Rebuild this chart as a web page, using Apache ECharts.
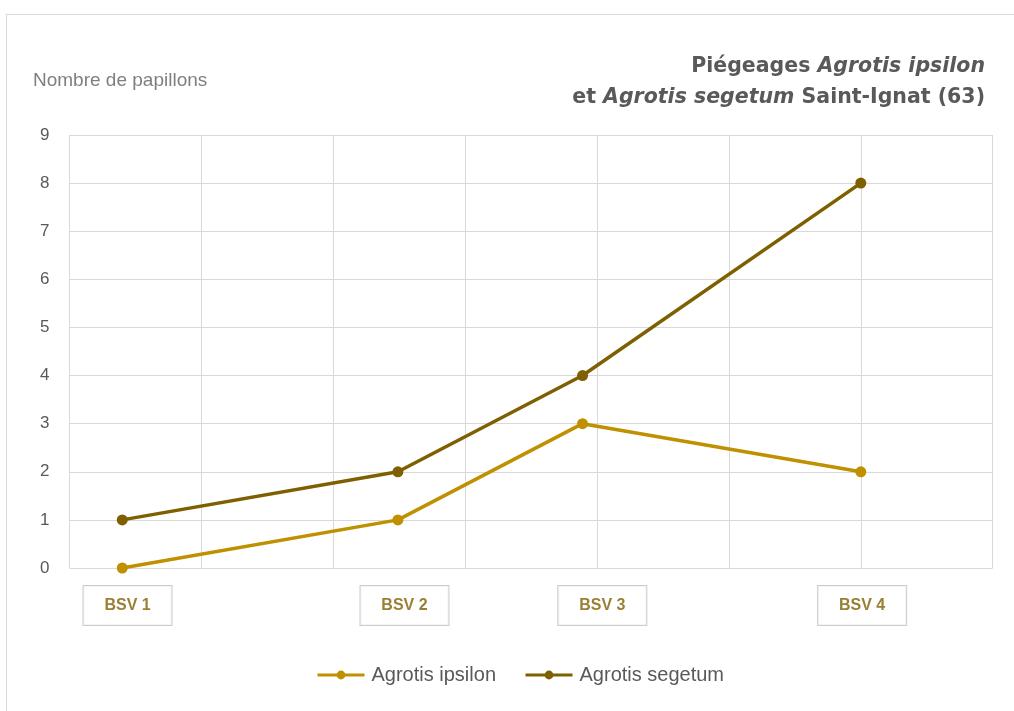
<!DOCTYPE html>
<html>
<head>
<meta charset="utf-8">
<script src="https://cdn.jsdelivr.net/npm/echarts@6/dist/echarts.min.js"></script>
<style>
html,body{margin:0;padding:0;background:#fff;}
#frame{position:absolute;left:6px;top:14px;width:1020px;height:710px;border:1px solid #d9d9d9;box-sizing:border-box;}
#chart{position:absolute;left:0;top:0;width:1014px;height:711px;}
</style>
</head>
<body>
<div id="frame"></div>
<div id="chart"></div>
<script>
// Data
const categories = ['BSV 1', 'BSV 2', 'BSV 3', 'BSV 4'];
const xPositions = [0.4, 2.49, 3.89, 6.0];      // position of each BSV on the horizontal scale
const labelPositions = [0.44, 2.54, 4.04, 6.01]; // centre of each BSV label box
const ipsilon = [0, 1, 3, 2];
const segetum = [1, 2, 4, 8];
const yTicks = [0, 1, 2, 3, 4, 5, 6, 7, 8, 9];
const seriesNames = ['Agrotis ipsilon', 'Agrotis segetum'];

const chart = echarts.init(document.getElementById('chart'), null, {renderer: 'canvas'});

const toPoints = (vals) => vals.map((v, i) => [xPositions[i], v]);

const tb = {fontFamily: 'DejaVu Sans', fontWeight: 'bold', fontSize: 20.5, color: '#595959', lineHeight: 31, align: 'right'};

chart.setOption({
  animation: false,
  backgroundColor: 'transparent',
  title: [
    {
      right: 24, top: 46,
      text: '{b|Piégeages }{bi|Agrotis ipsilon}\n{b|et }{bi|Agrotis segetum}{b| Saint-Ignat (63)}',
      textStyle: {
        align: 'right',
        rich: {
          b: tb,
          bi: Object.assign({}, tb, {fontStyle: 'italic'})
        }
      }
    },
    {
      left: 28, top: 66,
      text: 'Nombre de papillons',
      textStyle: {fontFamily: 'Liberation Sans', fontWeight: 'normal', fontSize: 19, color: '#7f7f7f'}
    }
  ],
  legend: {
    data: seriesNames,
    bottom: 21,
    left: 311,
    itemWidth: 47,
    itemHeight: 11,
    itemGap: 28,
    lineStyle: {width: 3},
    textStyle: {fontFamily: 'Liberation Sans', fontSize: 20, color: '#595959', padding: [0, 0, 0, 2]}
  },
  grid: {left: 69.5, right: 21.3, top: 135, bottom: 143, containLabel: false},
  xAxis: {
    type: 'value', min: 0, max: 7, interval: 1,
    axisLine: {show: false}, axisTick: {show: false}, axisLabel: {show: false},
    splitLine: {show: true, lineStyle: {color: '#d9d9d9', width: 1}}
  },
  yAxis: {
    type: 'value', min: yTicks[0], max: yTicks[yTicks.length - 1], interval: 1,
    axisLine: {show: false}, axisTick: {show: false},
    axisLabel: {fontFamily: 'Liberation Sans', fontSize: 17, color: '#595959', margin: 20},
    splitLine: {show: true, lineStyle: {color: '#d9d9d9', width: 1}}
  },
  series: [
    {
      name: seriesNames[0], type: 'line', data: toPoints(ipsilon),
      symbol: 'circle', symbolSize: 11,
      lineStyle: {color: '#BF9000', width: 3.5},
      itemStyle: {color: '#BF9000'}, z: 3
    },
    {
      name: seriesNames[1], type: 'line', data: toPoints(segetum),
      symbol: 'circle', symbolSize: 11,
      lineStyle: {color: '#7F6000', width: 3.5},
      itemStyle: {color: '#7F6000'}, z: 4
    },
    {
      name: 'labels', type: 'scatter', silent: true,
      data: labelPositions.map((x, i) => ({value: [x, 0], name: categories[i]})),
      symbolSize: 0,
      label: {
        show: true, position: 'bottom', distance: 18,
        formatter: (p) => p.name,
        fontFamily: 'Liberation Sans', fontWeight: 'bold', fontSize: 16, color: '#7F6000',
        borderColor: '#bfbfbf', borderWidth: 1,
        width: 88, height: 17, lineHeight: 17, align: 'center',
        padding: [11, 0, 11, 0], backgroundColor: '#fff'
      }
    }
  ]
});
</script>
</body>
</html>
